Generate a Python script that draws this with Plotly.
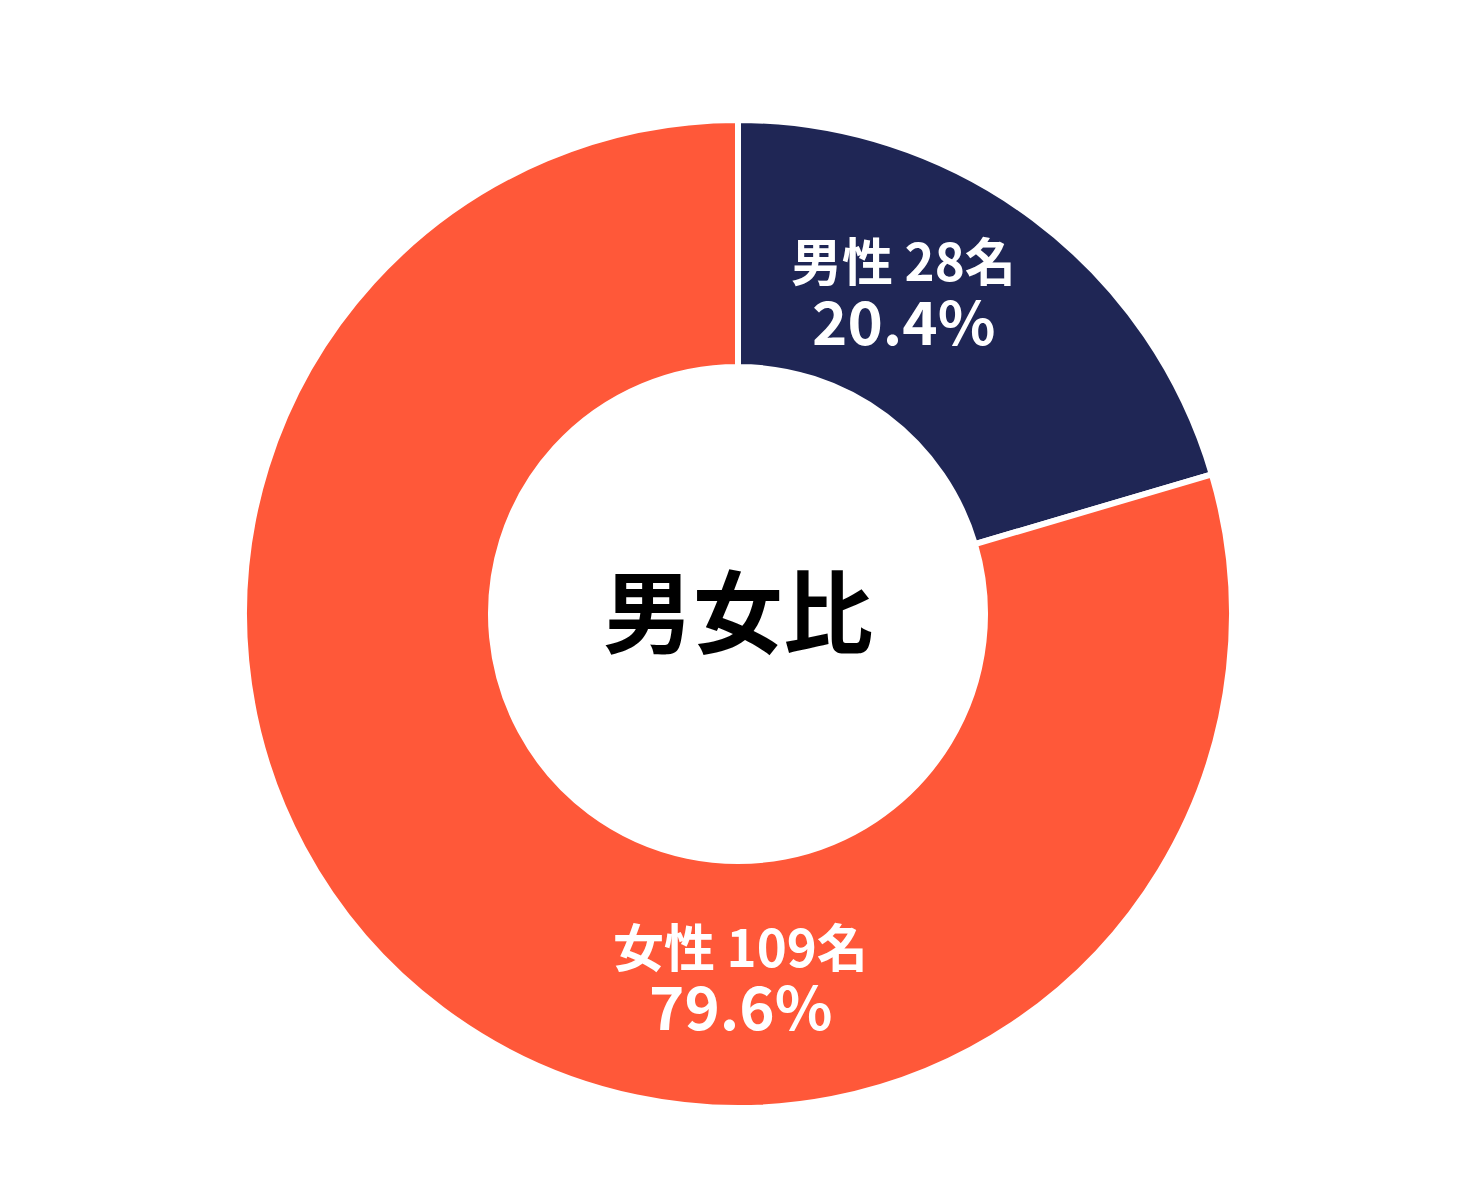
import plotly.graph_objects as go

labels = ["男性", "女性"]
counts = [28, 109]
colors = ["#1F2655", "#FF5839"]
center_title = "男女比"

W, H = 1464, 1203
OX, OY = 8, 8          # page body margin offset
cx, cy, R = 738 - OX, 614 - OY, 494

total = sum(counts)
pcts = [c / total * 100 for c in counts]

fig = go.Figure(go.Pie(
    labels=labels,
    values=counts,
    hole=0.50,
    sort=False,
    direction="clockwise",
    rotation=0,
    marker=dict(colors=colors, line=dict(color="white", width=6)),
    textinfo="none",
    hoverinfo="label+value+percent",
    domain=dict(x=[(cx - R) / W, (cx + R) / W],
                y=[(H - cy - R) / H, (H - cy + R) / H]),
    showlegend=False,
))

label_pos = [(903, 259, 318), (740, 945, 1003)]
font_family = "Noto Sans CJK JP"
anns = []
for (lab, c, p, (x, y1, y2)) in zip(labels, counts, pcts, label_pos):
    anns.append(dict(x=(x - OX) / W, y=1 - (y1 - OY) / H, xref="paper", yref="paper",
                     text=f"<b>{lab} {c}名</b>", showarrow=False,
                     font=dict(family=font_family, size=51, color="white"),
                     xanchor="center", yanchor="middle"))
    anns.append(dict(x=(x - OX) / W, y=1 - (y2 - OY) / H, xref="paper", yref="paper",
                     text=f"<b>{p:.1f}%</b>", showarrow=False,
                     font=dict(family=font_family, size=60, color="white"),
                     xanchor="center", yanchor="middle"))
anns.append(dict(x=(738 - OX) / W, y=1 - (607 - OY) / H, xref="paper", yref="paper",
                 text=f"<b>{center_title}</b>", showarrow=False,
                 font=dict(family=font_family, size=90, color="black"),
                 xanchor="center", yanchor="middle"))

fig.update_layout(
    width=W, height=H,
    margin=dict(l=0, r=0, t=0, b=0),
    paper_bgcolor="white", plot_bgcolor="white",
    annotations=anns,
)

fig.write_html("out.html")
